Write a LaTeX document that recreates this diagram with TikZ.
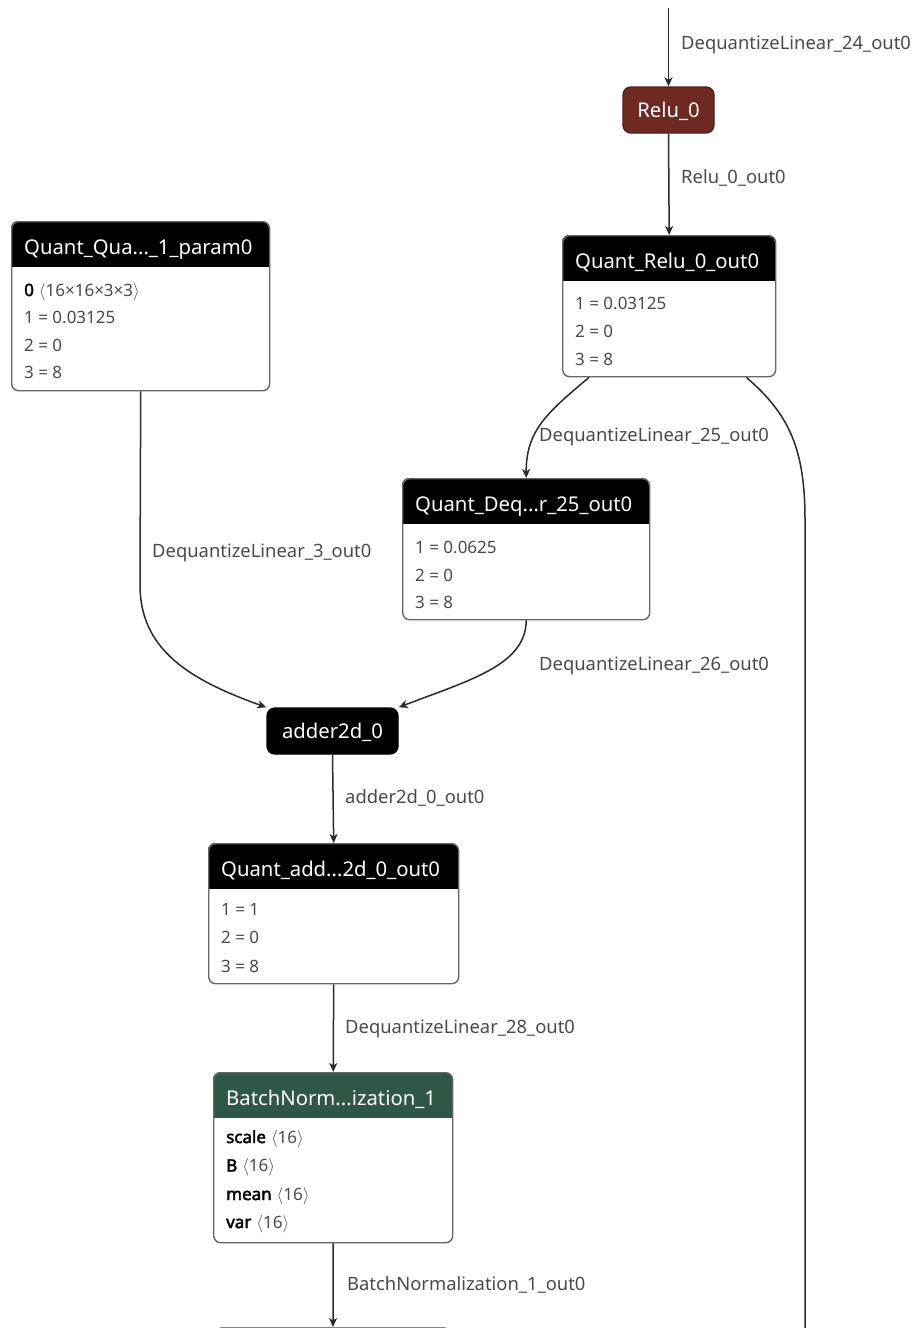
\documentclass[tikz,border=0pt]{standalone}
\usepackage{fontspec}
\setmainfont{Noto Sans}[AutoFakeBold=2.5]
\usetikzlibrary{arrows.meta}

\definecolor{relured}{HTML}{6E2A22}
\definecolor{bngreen}{HTML}{2F5844}
\definecolor{edgegray}{HTML}{2A2A2A}
\definecolor{labelgray}{HTML}{4A4A4A}
\definecolor{framegray}{HTML}{666666}

\tikzset{
  boxframe/.style={draw=framegray, line width=1.4pt, rounded corners=7pt, inner sep=0pt},
  boxtitle/.style={text=white, font=\fontsize{20.3}{24}\selectfont, anchor=base west, inner sep=0pt},
  attr/.style={text=labelgray, font=\fontsize{17}{20}\selectfont, anchor=base west, inner sep=0pt},
  opnode/.style={line width=1.4pt, rounded corners=8pt, text=white,
    font=\fontsize{20.3}{24}\selectfont, minimum height=46pt, inner sep=0pt,
    text height=15pt, text depth=0pt},
  flow/.style={draw=edgegray, line width=1.5pt, -{Stealth[length=9pt,width=8pt,inset=2.5pt]}},
  plainflow/.style={draw=edgegray, line width=1.5pt},
  elabel/.style={text=labelgray, font=\fontsize{18.4}{21}\selectfont, anchor=base west, inner sep=0pt},
}

% attribute table: name, top-left x/y, bottom-right x/y, header colour, title
\newcommand{\tablebox}[7]{%
  \begin{scope}
    \clip[rounded corners=7pt] (#2,#3) rectangle (#4,#5);
    \fill[#6] (#2,#3) rectangle (#4,#3+46);
  \end{scope}
  \node[boxframe, anchor=north west, minimum width={(#4-#2)*1pt},
        minimum height={(#5-#3)*1pt}] (#1) at (#2,#3) {};
  \node[boxtitle] (#1-title) at (#2+13,#3+33) {#7};
}
\newcommand{\attkey}[1]{\textcolor{black}{\textbf{#1}}}
\newcommand{\shape}[1]{$\langle$#1$\rangle$}

\begin{document}
\begin{tikzpicture}[x=1pt,y=-1pt]
\useasboundingbox (0,0) rectangle (917,1328);
\clip (0,0) rectangle (917,1328);

% operator nodes
\node[opnode, fill=relured, draw=relured!75!black, minimum width=91pt] (relu) at (668.5,110) {Relu\_0};
\node[opnode, fill=black, draw=black, minimum width=131pt] (adder) at (332.5,731) {adder2d\_0};

% attribute tables
\tablebox{qqa}{11}{221}{269}{390}{black}{Quant\_Qua...\_1\_param0}
\node[attr] (qqa-r0) at (24,296) {\attkey{0}\hspace{5pt}\shape{16×16×3×3}};
\node[attr] (qqa-r1) at (24,323.5) {1 = 0.03125};
\node[attr] (qqa-r2) at (24,351) {2 = 0};
\node[attr] (qqa-r3) at (24,378.5) {3 = 8};

\tablebox{qrelu}{562}{235}{775}{376}{black}{Quant\_Relu\_0\_out0}
\node[attr] (qrelu-r1) at (575,309) {1 = 0.03125};
\node[attr] (qrelu-r2) at (575,337) {2 = 0};
\node[attr] (qrelu-r3) at (575,365) {3 = 8};

\tablebox{qdeq}{402}{478}{649}{619}{black}{Quant\_Deq...r\_25\_out0}
\node[attr] (qdeq-r1) at (415,553) {1 = 0.0625};
\node[attr] (qdeq-r2) at (415,581) {2 = 0};
\node[attr] (qdeq-r3) at (415,608) {3 = 8};

\tablebox{qadd}{208}{843}{458}{983}{black}{Quant\_add...2d\_0\_out0}
\node[attr] (qadd-r1) at (221,915) {1 = 1};
\node[attr] (qadd-r2) at (221,943) {2 = 0};
\node[attr] (qadd-r3) at (221,972) {3 = 8};

\tablebox{bn}{213}{1072}{452}{1242}{bngreen}{BatchNorm...ization\_1}
\node[attr] (bn-r1) at (226,1143) {\attkey{scale}\hspace{5pt}\shape{16}};
\node[attr] (bn-r2) at (226,1171.5) {\attkey{B}\hspace{5pt}\shape{16}};
\node[attr] (bn-r3) at (226,1200) {\attkey{mean}\hspace{5pt}\shape{16}};
\node[attr] (bn-r4) at (226,1228) {\attkey{var}\hspace{5pt}\shape{16}};

% next table, only its top edge shows
\node[boxframe, draw=framegray!80, anchor=north, minimum width=235pt, minimum height=50pt] (next) at (333,1327) {};

% loose ends
\coordinate (in24) at (668.5,8);
\coordinate (outright) at (805,1345);

% connectors
\draw[flow] (in24) -- (relu.north);
\draw[flow] (relu.south) -- (qrelu.north);
\draw[flow] ([xshift=27pt]qrelu.south west) .. controls (548,412) and (526,430) .. (qdeq.north);
\draw[plainflow] ([xshift=-30pt]qrelu.south east) .. controls (790,415) and (805,450) .. (805,520) -- (outright);
\draw[flow] (qqa.south) -- (140,585) .. controls (140,650) and (190,680) .. (adder.north west);
\draw[flow] (qdeq.south) .. controls (526,665) and (470,680) .. (adder.north east);
\draw[flow] (adder.south) -- (qadd.north);
\draw[flow] (qadd.south) -- (bn.north);
\draw[flow] (bn.south) -- (next.north);

% connector labels
\node[elabel] (l24) at (681,49) {DequantizeLinear\_24\_out0};
\node[elabel] (lrelu) at (681,183) {Relu\_0\_out0};
\node[elabel] (l3) at (152,557) {DequantizeLinear\_3\_out0};
\node[elabel] (l25) at (539,441) {DequantizeLinear\_25\_out0};
\node[elabel] (l26) at (539,670) {DequantizeLinear\_26\_out0};
\node[elabel] (ladd) at (345,803) {adder2d\_0\_out0};
\node[elabel] (l28) at (345,1033) {DequantizeLinear\_28\_out0};
\node[elabel] (lbn) at (347,1290) {BatchNormalization\_1\_out0};
\end{tikzpicture}
\end{document}
